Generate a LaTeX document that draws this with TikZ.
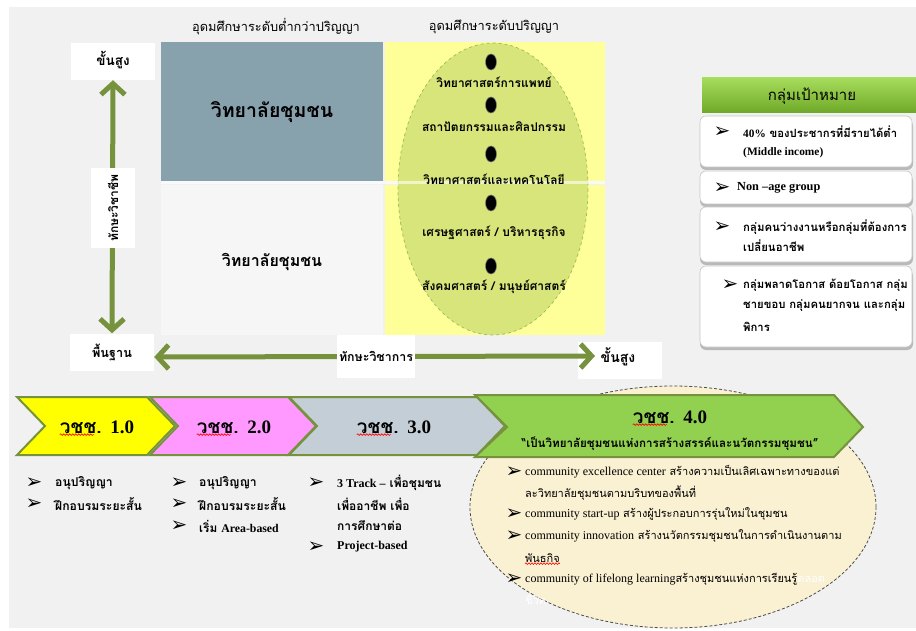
\documentclass[tikz,border=0pt]{standalone}
\usepackage{fontspec}
\setmainfont[Script=Thai]{Loma}
\newfontfamily\lat{Liberation Serif}
\newfontfamily\dvs{DejaVu Sans}
\usetikzlibrary{arrows.meta,decorations.pathmorphing,calc,shapes.geometric}
\definecolor{bgc}{HTML}{F1F1F1}
\definecolor{slate}{HTML}{87A1AD}
\definecolor{lbox}{HTML}{F6F6F6}
\definecolor{yel}{HTML}{FFFF99}
\definecolor{ellg}{HTML}{D7E57A}
\definecolor{ellb}{HTML}{9BBB59}
\definecolor{arrg}{HTML}{76923C}
\definecolor{cA}{HTML}{FFFF00}
\definecolor{cB}{HTML}{FF99FF}
\definecolor{cC}{HTML}{C3CED6}
\definecolor{cD}{HTML}{92D050}
\definecolor{beige}{HTML}{FAF0D2}
\definecolor{hgA}{HTML}{A6DC5C}
\definecolor{hgB}{HTML}{6FA828}
\newcommand\myfs[1]{\fontsize{#1bp}{#1bp}\selectfont}
\newcommand\bul{{\dvs\bfseries\myfs{20}➢}}
\begin{document}
\begin{tikzpicture}[x=1bp,y=-1bp,
  every node/.style={inner sep=0pt},
  tb/.style={font=\bfseries\myfs{#1}},
  tr/.style={font=\myfs{#1}},
  lb/.style={font=\lat\bfseries\myfs{#1}},
  lw/.style={anchor=west},
  wbox/.style={fill=white, minimum width=84bp, minimum height=37bp},
  garrow/.style={draw=arrg, line width=5bp,
    arrows={Straight Barb[length=11bp,width=24bp]-Straight Barb[length=11bp,width=24bp]}},
  chev/.style={draw=arrg, line width=2bp, line join=miter},
  dotn/.style={ellipse, fill=black, draw=gray, line width=0.6bp, minimum width=11bp, minimum height=16bp},
  squig/.style={draw=red, line width=0.6bp, decorate, decoration={snake, amplitude=0.8bp, segment length=3bp}},
  cardsh/.style={fill=gray!55, rounded corners=6bp},
  card/.style={fill=white, draw=gray!45, line width=0.6bp, rounded corners=6bp}
]
\useasboundingbox (0,0) rectangle (916,631);
\fill[white] (0,0) rectangle (916,631);
\fill[bgc] (9,7) rectangle (916,628);

% headers
\node[tr=12.8] (h1) at (276,27) {อุดมศึกษาระดับต่ำกว่าปริญญา};
\node[tr=12.8] (h2) at (494,27) {อุดมศึกษาระดับปริญญา};

% quadrant boxes
\fill[slate] (161,42) rectangle (383,181);
\fill[lbox] (161,185) rectangle (383,335);
\fill[yel] (385,42) rectangle (605,181);
\fill[yel] (385,185) rectangle (605,335);
\node[tb=19.5] (q1) at (272,112) {วิทยาลัยชุมชน};
\node[tb=16] (q2) at (272,262) {วิทยาลัยชุมชน};

% ellipse of degree fields
\draw[fill=ellg, draw=ellb, dashed, line width=0.7bp] (493,189) ellipse [x radius=95, y radius=146];
\draw[white, opacity=0.6, line width=3bp] (161,183) -- (605,183);
\node[dotn] (d1) at (491,62) {};
\node[dotn] (d2) at (491,105) {};
\node[dotn] (d3) at (491,154) {};
\node[dotn] (d4) at (491,203) {};
\node[dotn] (d5) at (491,266) {};
\node[tb=12] (f1) at (494,82) {วิทยาศาสตร์การแพทย์};
\node[tb=12] (f2) at (494,127) {สถาปัตยกรรมและศิลปกรรม};
\node[tb=12] (f3) at (494,179) {วิทยาศาสตร์และเทคโนโลยี};
\node[tb=12] (f4) at (494,233) {เศรษฐศาสตร์ / บริหารธุรกิจ};
\node[tb=12] (f5) at (494,287) {สังคมศาสตร์ / มนุษย์ศาสตร์};

% axis boxes and arrows
\node[wbox, tb=13.5, text depth=6bp] (top1) at (113,61.5) {ขั้นสูง};
\node[wbox, tb=12.7] (base1) at (112,352) {พื้นฐาน};
\node[wbox] (top2) at (620,360) {};
\node[tb=14] (top2t) at (618,357) {ขั้นสูง};
\coordinate (hr) at (595,356);
\draw[garrow] (top1.south) -- (base1.north);
\node[fill=white, minimum width=44bp, minimum height=80bp] (vl) at (113,208) {};
\node[tb=12, rotate=90] (vlt) at (vl) {ทักษะวิชาชีพ};
\draw[garrow] (base1.east |- top2t) -- (hr);
\node[fill=white, minimum width=78bp, minimum height=43bp] (hl) at (376,356) {};
\node[tb=12.4] (hlt) at (hl) {ทักษะวิชาการ};

% target group panel
\shade[top color=hgA, bottom color=hgB] (702,78) rectangle (916,113);
\node[tr=15] (tg) at (812,96) {กลุ่มเป้าหมาย};
\fill[cardsh] (700,120) rectangle (913,170);
\fill[card] (700,116) rectangle (912,167);
\fill[cardsh] (700,175) rectangle (913,207);
\fill[card] (700,171) rectangle (912,204);
\fill[cardsh] (700,211) rectangle (913,265);
\fill[card] (700,207) rectangle (912,262);
\fill[cardsh] (700,270) rectangle (913,350);
\fill[card] (700,266) rectangle (912,347);
\node (b1) at (722,132) {\bul};
\node[lw, tb=11.3] (t1a) at (743,132) {{\lat 40\%} ของประชากรที่มีรายได้ต่ำ};
\node[lw, lb=11.4] (t1b) at (743,153) {(Middle income)};
\node (b2) at (722,188) {\bul};
\node[lw, lb=12.3] (t2) at (737,188) {Non –age group};
\node (b3) at (722,227) {\bul};
\node[lw, tb=11.4] (t3a) at (743,227) {กลุ่มคนว่างงานหรือกลุ่มที่ต้องการ};
\node[lw, tb=11.4] (t3b) at (743,246) {เปลี่ยนอาชีพ};
\node (b4) at (730,285) {\bul};
\node[lw, tb=11.3] (t4a) at (743,285) {กลุ่มพลาดโอกาส ด้อยโอกาส กลุ่ม};
\node[lw, tb=11.3] (t4b) at (743,306) {ชายขอบ กลุ่มคนยากจน และกลุ่ม};
\node[lw, tb=11.3] (t4c) at (743,327) {พิการ};

% big beige ellipse
\draw[fill=beige, draw=black!70, densely dashed, line width=0.8bp] (673,507) ellipse [x radius=203, y radius=121];

% chevrons
\filldraw[chev, fill=cA] (17,397) -- (147,397) -- (175,426) -- (147,455) -- (17,455) -- (45,426) -- cycle;
\filldraw[chev, fill=cB] (150,397) -- (288,397) -- (316,426) -- (288,455) -- (150,455) -- (178,426) -- cycle;
\filldraw[chev, fill=cC] (289,397) -- (477,397) -- (505,426) -- (477,455) -- (289,455) -- (317,426) -- cycle;
\filldraw[chev, fill=cD] (475,395) -- (834,395) -- (863,427) -- (834,457) -- (475,457) -- (507,427) -- cycle;
\node[tb=19] (c1) at (97,427) {วชช. {\lat 1.0}};
\node[tb=19] (c2) at (234,427) {วชช. {\lat 2.0}};
\node[tb=19] (c3) at (394,427) {วชช. {\lat 3.0}};
\node[tb=19] (c4) at (670,417) {วชช. {\lat 4.0}};
\node[tb=11.6] (c4s) at (670,444) {“เป็นวิทยาลัยชุมชนแห่งการสร้างสรรค์และนวัตกรรมชุมชน”};
\draw[squig] ($(c1.south west)+(0,1)$) -- ++(34,0);
\draw[squig] ($(c2.south west)+(0,1)$) -- ++(34,0);
\draw[squig] ($(c3.south west)+(0,1)$) -- ++(34,0);
\draw[squig] ($(c4.south west)+(0,1)$) -- ++(34,0);

% column lists
\node (p1) at (34,483) {\bul};
\node[lw, tb=12.2] (p1t) at (55,483) {อนุปริญญา};
\node (p2) at (34,504) {\bul};
\node[lw, tb=12.2] (p2t) at (55,504) {ฝึกอบรมระยะสั้น};
\node (r1) at (179,483) {\bul};
\node[lw, tb=12.2] (r1t) at (199,483) {อนุปริญญา};
\node (r2) at (179,504) {\bul};
\node[lw, tb=12.2] (r2t) at (199,504) {ฝึกอบรมระยะสั้น};
\node (r3) at (179,526) {\bul};
\node[lw, tb=11.8] (r3t) at (199,526) {เริ่ม {\lat Area-based}};
\node (s1) at (316,483) {\bul};
\node[lw, tb=12] (s1t) at (337,483) {{\lat 3 Track –} เพื่อชุมชน};
\node[lw, tb=12] (s1u) at (337,504) {เพื่ออาชีพ เพื่อ};
\node[lw, tb=12] (s1v) at (337,526) {การศึกษาต่อ};
\node (s2) at (316,547) {\bul};
\node[lw, lb=12] (s2t) at (337,547) {Project-based};

% ellipse bullets
\node (e1) at (514,472) {\bul};
\node[lw, tr=11] (e1t) at (525,472) {{\lat\myfs{12}community excellence center} สร้างความเป็นเลิศเฉพาะทางของแต่};
\node[lw, tr=11] (e1u) at (525,493) {ละวิทยาลัยชุมชนตามบริบทของพื้นที่};
\node (e2) at (514,514) {\bul};
\node[lw, tr=11] (e2t) at (525,514) {{\lat\myfs{12}community start-up} สร้างผู้ประกอบการรุ่นใหม่ในชุมชน};
\node (e3) at (514,536) {\bul};
\node[lw, tr=11] (e3t) at (525,536) {{\lat\myfs{12}community innovation} สร้างนวัตกรรมชุมชนในการดำเนินงานตาม};
\node[lw, tr=11] (e3u) at (525,558) {พันธกิจ};
\draw[squig] ($(e3u.south west)+(0,1)$) -- ($(e3u.south east)+(0,1)$);
\node (e4) at (514,579) {\bul};
\node[lw, tr=11] (e4t) at (525,579) {{\lat\myfs{12}community of lifelong learning}สร้างชุมชนแห่งการเรียนรู้\textcolor{white}{ตลอด}};
\node[lw, tr=11, text=white] (e4u) at (525,600) {ชีวิต};
\end{tikzpicture}
\end{document}
